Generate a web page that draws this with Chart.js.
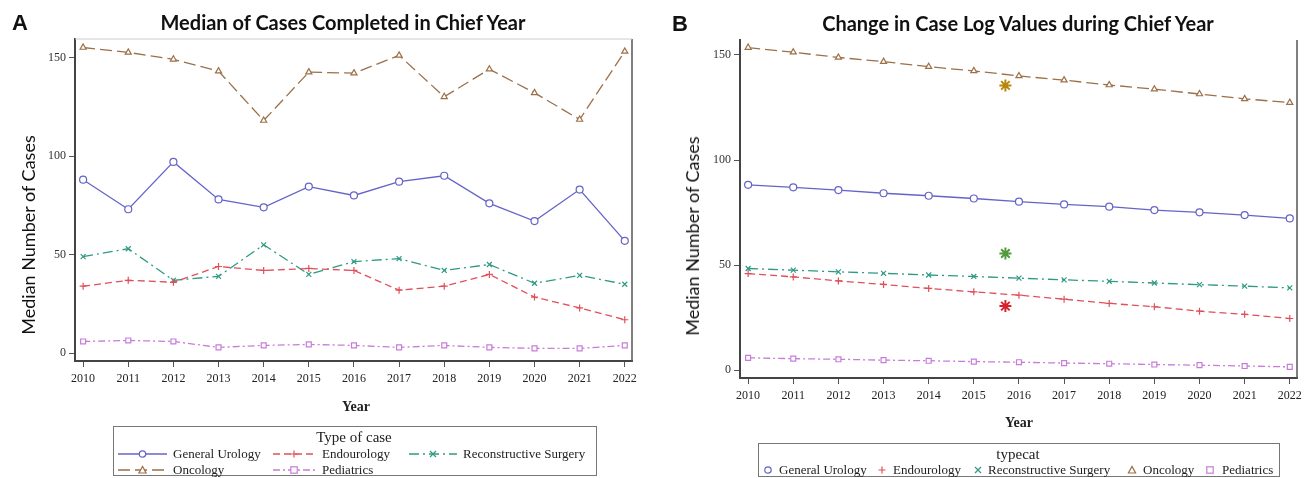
<!DOCTYPE html>
<html lang="en">
<head>
<meta charset="UTF-8">
<title>Chief Year Case Logs</title>
<script src="https://cdn.jsdelivr.net/npm/chart.js@4.4.1/dist/chart.umd.min.js"></script>
<style>
  body { margin: 0; background: #fff; width: 1316px; height: 478px; overflow: hidden; position: relative; color: #222; font-family: 'Liberation Serif', serif; }
  .panel { position: absolute; top: 0; width: 658px; height: 478px; }
  .panel canvas { position: absolute; left: 0; top: 0; }
  .tag { position: absolute; font: bold 22px 'Liberation Sans', Arial, sans-serif; color: #111; }
  .title { position: absolute; font: bold 20px Lato, sans-serif; white-space: nowrap; transform: translate(-50%, -50%); color: #111; }
  .ytitle { position: absolute; font: 18px Lato, sans-serif; white-space: nowrap; transform: translate(-50%, -50%) rotate(-90deg); color: #111; }
  .xtitle { position: absolute; font: bold 14px 'Liberation Serif', serif; transform: translate(-50%, -50%); }
  .legend { position: absolute; border: 1.5px solid #777; box-sizing: border-box; }
  .ltitle { position: absolute; font: 15px 'Liberation Serif', serif; transform: translate(-50%, -50%); white-space: nowrap; }
  .item { position: absolute; font: 13px 'Liberation Serif', serif; white-space: nowrap; transform: translateY(-50%); }
  svg.sw { position: absolute; overflow: visible; }
</style>
</head>
<body>
<div class="panel" style="left:0"><canvas id="chartA" width="658" height="478"></canvas></div>
<div class="panel" style="left:658px"><canvas id="chartB" width="658" height="478"></canvas></div>

<div class="tag" style="left:12px; top:10px">A</div>
<div class="tag" style="left:672px; top:11px">B</div>
<div class="title" style="left:343px; top:22px">Median of Cases Completed in Chief Year</div>
<div class="title" style="left:1018px; top:23px">Change in Case Log Values during Chief Year</div>
<div class="ytitle" style="left:28px; top:235px">Median Number of Cases</div>
<div class="ytitle" style="left:692px; top:236px">Median Number of Cases</div>
<div class="xtitle" style="left:356px; top:407px">Year</div>
<div class="xtitle" style="left:1019px; top:423px">Year</div>

<div class="legend" style="left:113px; top:426px; width:484px; height:50px"></div>
<div class="ltitle" style="left:354px; top:437px">Type of case</div>
<div class="legend" style="left:758px; top:443px; width:522px; height:34px"></div>
<div class="ltitle" style="left:1018px; top:454px">typecat</div>
<div id="legends"></div>

<script>
// data
const years = [2010, 2011, 2012, 2013, 2014, 2015, 2016, 2017, 2018, 2019, 2020, 2021, 2022];
const yTicks = [0, 50, 100, 150];
const seriesNames = ['General Urology', 'Endourology', 'Reconstructive Surgery', 'Oncology', 'Pediatrics'];

// panel A: yearly medians
const genUroA = [88, 73, 97, 78, 74, 84.5, 80, 87, 90, 76, 67, 83, 57];
const endoA = [34, 37, 36, 44, 42, 43, 42, 32, 34, 40, 28.5, 23, 17];
const reconA = [49, 53, 37, 39, 55, 40, 46.5, 48, 42, 45, 35.5, 39.5, 35];
const oncA = [155, 152.5, 149, 143, 118, 142.5, 142, 151, 130, 144, 132, 118.5, 153];
const pedsA = [6, 6.5, 6, 3, 4, 4.5, 4, 3, 4, 3, 2.5, 2.5, 4];

// panel B: fitted trend values
const genUroB = [88.2, 87, 85.7, 84.2, 83, 81.7, 80.2, 78.9, 77.8, 76.2, 75.1, 73.8, 72.2];
const endoB = [46, 44.4, 42.5, 40.8, 38.9, 37.3, 35.7, 33.8, 31.8, 30.2, 28.1, 26.6, 24.6];
const reconB = [48.4, 47.6, 46.8, 46.1, 45.3, 44.6, 43.8, 43, 42.3, 41.5, 40.7, 40, 39.2];
const oncB = [153.5, 151.3, 148.8, 146.8, 144.4, 142.4, 140, 138, 135.7, 133.7, 131.4, 129.1, 127.3];
const pedsB = [5.9, 5.5, 5.2, 4.8, 4.5, 4.1, 3.8, 3.4, 3.1, 2.7, 2.4, 2.0, 1.6];

// panel B: starred markers
const starLabels = ['Oncology', 'Reconstructive Surgery', 'Endourology'];
const starX = [2015.7, 2015.7, 2015.7];
const starY = [135.5, 55.5, 30.5];

const colors = ['#6464c8', '#e0505a', '#2f9a84', '#9c7048', '#c77dd8'];
const dashes = [[], [7, 4], [10, 4, 2, 4], [12, 5], [7, 3, 2, 3]];
const styles = ['circle', 'cross', 'crossRot', 'triangle', 'rect'];
const starColors = ['#b8860b', '#4f9a3a', '#d8232f'];

function lineSet(i, values) {
  return {
    label: seriesNames[i],
    data: years.map((yr, k) => ({ x: yr, y: values[k] })),
    borderColor: colors[i],
    borderWidth: 1.3,
    borderDash: dashes[i],
    pointStyle: styles[i],
    pointRadius: 3.5,
    pointBorderColor: colors[i],
    pointBackgroundColor: '#fff',
    pointBorderWidth: 1.2,
    tension: 0
  };
}

// right/top edge of the plot box
const framePlugin = {
  id: 'frame',
  afterDraw(chart, args, opts) {
    const { left, right, top, bottom } = chart.chartArea;
    const c = chart.ctx;
    c.save();
    c.lineWidth = 1.5;
    c.strokeStyle = '#555';
    c.beginPath(); c.moveTo(right, top); c.lineTo(right, bottom + 1); c.stroke();
    if (opts.top) {
      c.lineWidth = 1;
      c.strokeStyle = opts.top;
      c.beginPath(); c.moveTo(left, top); c.lineTo(right, top); c.stroke();
    }
    c.restore();
  }
};

function makeOptions(cfg) {
  return {
    responsive: false,
    animation: false,
    layout: { padding: { top: cfg.top, right: cfg.right, left: 0, bottom: 0 } },
    plugins: { legend: { display: false }, tooltip: { enabled: false }, frame: { top: cfg.frameTop } },
    scales: {
      x: {
        type: 'linear', min: cfg.xMin, max: cfg.xMax,
        afterBuildTicks: s => { s.ticks = years.map(v => ({ value: v })); },
        afterFit: s => { s.height = cfg.xHeight; },
        ticks: { callback: v => String(v), font: { family: 'Liberation Serif', size: 12 }, color: '#222', padding: 5, maxRotation: 0, autoSkip: false },
        grid: { drawOnChartArea: false, tickLength: 6, color: '#555' },
        border: { color: '#444', width: 2 }
      },
      y: {
        min: cfg.yMin, max: cfg.yMax,
        afterBuildTicks: s => { s.ticks = yTicks.map(v => ({ value: v })); },
        afterFit: s => { s.width = cfg.yWidth; },
        ticks: { font: { family: 'Liberation Serif', size: 12 }, color: '#333', padding: 3 },
        grid: { drawOnChartArea: false, tickLength: 6, color: '#555' },
        border: { color: '#444', width: 2 }
      }
    }
  };
}

new Chart(document.getElementById('chartA'), {
  type: 'line',
  data: { datasets: [lineSet(0, genUroA), lineSet(1, endoA), lineSet(2, reconA), lineSet(3, oncA), lineSet(4, pedsA)] },
  options: makeOptions({ top: 39, right: 26, xHeight: 117, yWidth: 75, xMin: 2009.82, xMax: 2022.16, yMin: -3.9, yMax: 159.3, frameTop: '#ccc' }),
  plugins: [framePlugin]
});

const starSets = starLabels.map((lab, i) => ({
  label: lab + ' (mean)',
  data: [{ x: starX[i], y: starY[i] }],
  showLine: false,
  pointStyle: 'star',
  pointRadius: 6,
  pointBorderWidth: 2,
  pointBorderColor: starColors[i],
  pointBackgroundColor: starColors[i]
}));

new Chart(document.getElementById('chartB'), {
  type: 'line',
  data: { datasets: [lineSet(0, genUroB), lineSet(1, endoB), lineSet(2, reconB), lineSet(3, oncB), lineSet(4, pedsB)].concat(starSets) },
  options: makeOptions({ top: 40, right: 19, xHeight: 100, yWidth: 82, xMin: 2009.82, xMax: 2022.16, yMin: -3.7, yMax: 157.1, frameTop: null }),
  plugins: [framePlugin]
});

// legend swatches
function marker(style, color, cx, cy) {
  const s = 'stroke="' + color + '" stroke-width="1.2" fill="#fff"';
  if (style === 'circle') return '<circle cx="' + cx + '" cy="' + cy + '" r="3.2" ' + s + '/>';
  if (style === 'rect') return '<rect x="' + (cx - 3.2) + '" y="' + (cy - 3.2) + '" width="6.4" height="6.4" ' + s + '/>';
  if (style === 'triangle') return '<path d="M' + cx + ' ' + (cy - 3.6) + 'L' + (cx + 3.6) + ' ' + (cy + 3) + 'L' + (cx - 3.6) + ' ' + (cy + 3) + 'Z" ' + s + '/>';
  if (style === 'cross') return '<path d="M' + (cx - 3.5) + ' ' + cy + 'H' + (cx + 3.5) + 'M' + cx + ' ' + (cy - 3.5) + 'V' + (cy + 3.5) + '" ' + s + '/>';
  return '<path d="M' + (cx - 3) + ' ' + (cy - 3) + 'L' + (cx + 3) + ' ' + (cy + 3) + 'M' + (cx + 3) + ' ' + (cy - 3) + 'L' + (cx - 3) + ' ' + (cy + 3) + '" ' + s + '/>';
}

const legendA = [[118, 49, 173, 454], [273, 42, 322, 454], [409, 48, 463, 454], [118, 49, 173, 470], [273, 42, 322, 470]];
const legendB = [[768, 779], [882, 893], [978, 988], [1132, 1143], [1210, 1222]];
let html = '';
legendA.forEach((p, i) => {
  const [x, w, tx, y] = p;
  html += '<svg class="sw" width="' + w + '" height="10" style="left:' + x + 'px; top:' + (y - 5) + 'px">' +
    '<line x1="0" y1="5" x2="' + w + '" y2="5" stroke="' + colors[i] + '" stroke-width="1.4" stroke-dasharray="' + (dashes[i].join(' ') || 'none') + '"/>' +
    marker(styles[i], colors[i], w / 2, 5) + '</svg>';
  html += '<div class="item" style="left:' + tx + 'px; top:' + y + 'px">' + seriesNames[i] + '</div>';
});
legendB.forEach((p, i) => {
  const [mx, tx] = p;
  html += '<svg class="sw" width="10" height="10" style="left:' + (mx - 5) + 'px; top:465px">' + marker(styles[i], colors[i], 5, 5) + '</svg>';
  html += '<div class="item" style="left:' + tx + 'px; top:470px">' + seriesNames[i] + '</div>';
});
document.getElementById('legends').innerHTML = html;
</script>
</body>
</html>
